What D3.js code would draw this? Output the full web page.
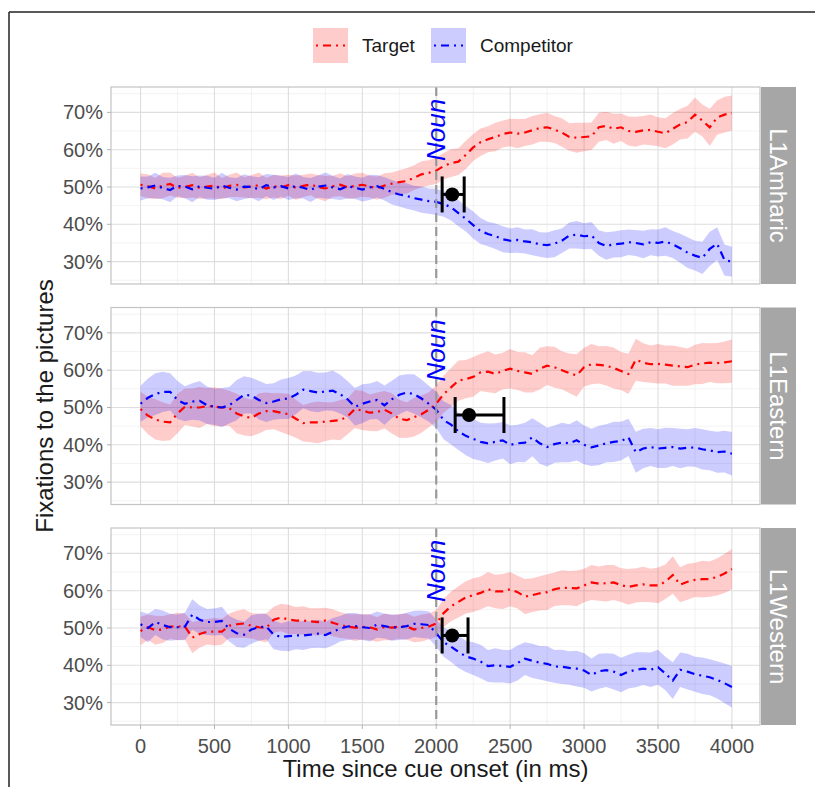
<!DOCTYPE html>
<html>
<head>
<meta charset="utf-8">
<script src="https://cdn.jsdelivr.net/npm/d3@7"></script>
<style>
  body { margin: 0; background: #fff; }
  svg { display: block; font-family: 'Liberation Sans', Arial, sans-serif; }
</style>
</head>
<body>
<svg width="815" height="787"></svg>
<script>
const groups = ['L1Amharic', 'L1Eastern', 'L1Western'];
const seriesNames = ['Target', 'Competitor'];
const seriesColors = ['#ff0000', '#0000ff'];
const times = d3.range(0, 4001, 50);
const xTicks = [0, 500, 1000, 1500, 2000, 2500, 3000, 3500, 4000];
const xMinor = [250, 750, 1250, 1750, 2250, 2750, 3250, 3750];
const yTicks = [30, 40, 50, 60, 70];
const yMinor = [25, 35, 45, 55, 65, 75];

// fixation proportions (%), one value per 50 ms bin
const amharicTarget = [
  50.6,50.2,49.6,50.4,50.8,49.8,50.0,50.5,49.7,50.1,
  50.4,49.6,50.3,50.6,49.9,50.1,50.5,49.6,50.2,49.9,
  50.5,49.8,50.3,50.7,50.0,49.6,50.2,50.6,49.9,50.3,
  50.6,50.1,49.7,50.4,50.9,51.3,51.6,52.5,53.4,53.8,
  54.4,55.6,56.4,56.8,58.6,60.6,62.0,62.8,63.4,64.2,
  64.6,64.3,64.6,65.2,65.8,66.0,65.4,64.6,63.4,63.2,
  63.4,63.6,66.0,66.4,65.6,66.0,65.0,64.8,65.2,65.3,
  64.8,64.4,65.6,66.8,67.4,69.4,67.8,66.0,68.6,69.4,
  69.8];
const amharicCompetitor = [
  49.6,49.9,50.4,49.7,49.2,50.3,50.1,49.4,50.2,49.8,
  49.5,50.4,49.8,49.3,50.1,50.0,49.4,50.5,49.9,50.2,
  49.6,50.3,49.8,49.2,50.1,50.4,49.9,49.4,50.2,49.8,
  49.3,49.9,50.2,49.5,48.6,48.0,47.6,47.0,46.6,46.2,
  46.0,45.4,44.6,43.0,41.5,39.8,38.2,37.4,36.8,36.0,
  35.6,35.8,35.4,35.2,34.6,34.4,34.8,35.6,37.0,37.2,
  36.8,37.0,35.0,34.2,34.6,34.8,35.2,35.0,34.6,35.2,
  35.0,35.4,34.6,33.6,32.4,31.6,31.0,33.4,34.8,30.4,
  30.0];
const easternTarget = [
  49.6,47.8,46.8,46.2,46.0,48.4,50.2,50.0,50.0,50.4,
  50.2,50.0,49.8,48.4,47.6,47.2,48.4,49.0,49.0,48.6,
  48.2,47.0,45.8,46.0,46.0,46.2,46.4,46.6,47.6,49.6,
  49.2,48.6,48.8,49.4,48.4,47.0,46.6,47.4,48.2,49.4,
  51.0,53.6,55.4,57.2,57.6,58.2,59.4,59.6,59.0,59.8,
  60.4,59.8,59.4,59.0,60.4,61.2,60.8,60.0,59.2,58.6,
  60.8,61.6,61.4,61.2,60.6,59.8,59.0,62.8,62.0,61.6,
  61.7,61.5,61.2,61.0,60.8,61.5,61.8,62.0,61.9,62.1,
  62.4];
const easternCompetitor = [
  51.0,52.6,53.6,54.2,54.2,52.0,51.0,51.6,51.8,50.6,
  50.2,50.0,50.6,52.0,53.4,53.2,52.0,51.2,51.6,52.2,
  52.4,53.4,54.8,54.4,54.0,54.3,54.5,53.6,52.2,50.2,
  51.0,51.6,52.0,50.6,52.2,53.4,54.0,53.6,52.4,51.0,
  49.4,46.6,45.4,43.6,42.4,41.6,40.8,40.4,40.8,41.2,
  40.0,40.4,40.6,42.0,40.4,39.4,40.2,40.6,40.4,41.2,
  40.0,39.3,39.8,40.4,40.8,41.0,42.0,38.0,39.0,39.4,
  39.0,39.2,39.4,39.0,39.2,39.3,38.8,38.5,38.0,38.2,
  37.6];
const westernTarget = [
  49.2,50.2,49.4,49.6,50.4,50.4,50.4,47.4,48.4,49.0,
  49.0,49.0,50.6,51.0,51.2,50.6,50.2,50.0,52.2,52.8,
  52.3,52.0,52.0,51.8,51.6,52.0,51.4,50.8,50.4,50.1,
  50.3,50.2,49.6,50.3,50.1,50.4,50.4,49.6,50.0,50.4,
  51.2,54.0,55.8,57.0,58.2,58.8,59.4,60.4,59.8,59.8,
  60.4,59.6,58.4,58.8,59.3,59.6,60.4,60.8,60.7,60.6,
  61.4,62.2,61.9,62.0,62.2,61.5,61.0,61.4,61.7,61.4,
  61.4,62.4,64.2,61.6,62.4,62.9,63.1,63.1,63.7,64.6,
  65.8];
const westernCompetitor = [
  51.0,50.0,51.6,50.8,50.2,50.2,50.4,53.6,52.2,51.6,
  51.6,51.9,49.8,48.6,48.2,49.6,50.2,50.4,48.2,47.6,
  47.8,48.0,48.0,48.2,48.5,48.1,49.0,49.8,50.4,50.5,
  50.2,50.0,50.9,50.5,50.1,50.2,50.5,51.1,51.0,50.8,
  48.6,46.2,45.0,43.6,42.4,41.8,41.0,39.8,40.0,39.8,
  39.6,40.6,41.8,41.2,40.7,40.4,39.7,39.6,39.3,39.1,
  38.6,37.4,38.4,38.7,38.3,37.4,38.3,38.8,39.1,38.8,
  39.5,37.8,35.9,38.8,38.3,37.6,37.2,36.8,36.1,35.2,
  34.2];

// ribbon half-widths (%)
const amharicTargetSE = [
  3.0,3.2,2.8,3.4,3.1,2.7,3.0,3.3,2.9,3.2,
  3.5,2.8,3.0,3.3,2.7,3.1,3.4,2.9,3.0,3.2,
  2.8,3.3,3.0,2.9,3.2,3.4,2.8,3.1,3.0,3.3,
  3.2,2.9,3.1,3.3,3.0,3.2,3.4,3.3,3.5,3.4,
  3.6,3.5,3.7,3.6,3.8,3.6,3.7,3.5,3.8,3.6,
  3.7,3.9,3.6,3.8,3.7,3.9,3.6,3.8,3.7,4.0,
  3.8,3.7,3.9,3.8,4.0,3.7,3.9,4.0,3.8,4.1,
  3.9,4.0,4.2,4.1,4.4,4.6,4.3,5.0,4.6,4.8,
  4.7];
const amharicCompetitorSE = [
  3.2,2.9,3.4,3.0,3.3,2.8,3.1,3.5,2.9,3.2,
  3.0,3.4,2.8,3.1,3.3,2.9,3.2,3.0,3.4,2.8,
  3.1,3.3,2.9,3.2,3.0,3.5,3.1,2.9,3.3,3.0,
  3.2,3.4,3.0,3.1,3.3,3.2,3.4,3.3,3.5,3.4,
  3.5,3.4,3.6,3.5,3.4,3.6,3.5,3.3,3.4,3.5,
  3.3,3.4,3.2,3.5,3.3,3.4,3.6,3.3,3.5,3.7,
  3.5,3.6,3.4,3.7,3.5,3.6,3.4,3.5,3.7,3.5,
  3.6,3.8,3.6,3.9,4.1,4.0,4.3,4.6,4.4,4.2,
  4.0];
const easternTargetSE = [
  4.6,5.0,5.4,5.2,4.8,5.3,4.9,5.1,5.5,4.8,
  5.2,5.0,4.7,5.3,5.1,4.9,5.4,5.0,4.8,5.2,
  5.5,5.1,4.9,5.3,5.6,5.2,5.0,5.4,4.8,5.1,
  5.3,4.9,5.2,5.0,5.4,5.1,4.8,5.2,5.0,4.7,
  4.9,5.0,5.2,5.4,5.1,5.3,5.0,5.5,5.2,4.9,
  5.3,5.1,5.4,5.0,5.6,5.2,5.5,5.1,5.3,5.7,
  5.2,5.4,5.0,5.3,5.5,5.1,5.4,5.6,5.2,5.0,
  5.3,5.1,5.4,5.2,5.0,5.3,5.5,5.2,5.4,5.6,
  5.8];
const easternCompetitorSE = [
  4.8,5.2,5.6,5.4,5.0,5.1,4.7,4.9,5.3,5.0,
  4.8,5.2,4.9,5.4,5.0,4.8,5.2,5.1,4.9,5.3,
  5.5,5.2,5.0,5.4,5.3,5.1,5.4,5.2,4.9,5.0,
  5.2,4.8,5.1,5.3,5.0,5.2,4.9,5.3,5.1,4.8,
  4.9,5.1,5.3,5.0,5.2,5.4,5.1,5.3,5.0,4.9,
  5.2,5.0,5.3,5.1,5.5,5.2,5.0,5.3,5.1,5.4,
  5.2,5.0,5.3,5.1,5.4,5.2,5.0,5.5,5.3,5.1,
  5.2,5.4,5.1,5.3,5.0,5.2,5.4,5.3,5.5,5.6,
  5.8];
const westernTargetSE = [
  3.8,3.4,3.9,3.6,3.3,3.7,3.5,4.2,3.6,3.4,
  3.7,3.5,3.3,3.6,3.8,3.4,3.6,3.9,3.5,3.7,
  3.9,3.6,3.8,3.5,3.7,3.4,3.6,3.5,3.3,3.6,
  3.4,3.5,3.3,3.6,3.4,3.3,3.5,3.4,3.6,3.5,
  3.6,3.8,4.0,4.2,4.3,4.5,4.4,4.6,4.5,4.7,
  4.6,4.4,4.7,4.5,4.6,4.8,4.5,4.7,4.6,4.8,
  4.5,4.7,4.6,4.9,4.7,4.5,4.8,4.6,4.7,4.5,
  4.8,4.6,5.0,4.7,4.8,4.6,4.9,4.7,5.0,5.2,
  5.4];
const westernCompetitorSE = [
  3.4,3.8,3.5,3.9,3.6,3.4,3.7,4.1,3.8,3.5,
  3.6,3.8,3.4,3.7,3.5,3.8,3.6,3.4,3.9,3.7,
  4.0,3.7,3.9,3.6,3.8,3.5,3.7,3.4,3.6,3.5,
  3.4,3.6,3.5,3.3,3.5,3.4,3.6,3.5,3.7,3.6,
  3.7,3.9,4.1,4.3,4.2,4.4,4.5,4.3,4.6,4.4,
  4.5,4.7,4.4,4.6,4.5,4.7,4.4,4.6,4.5,4.8,
  4.6,4.4,4.7,4.5,4.8,4.6,4.5,4.7,4.4,4.6,
  4.7,4.5,4.9,4.6,4.8,4.7,4.9,4.8,5.0,5.3,
  5.6];

// divergence point estimate with CI (ms) per group
const divergenceTime = [2108, 2222, 2108];
const divergenceLow = [2040, 2128, 2040];
const divergenceHigh = [2189, 2458, 2215];
const divergenceLevel = [48, 48, 48];
const nounOnset = 2000;
const nounLabelLevel = 65.3;

const seriesByGroup = [
  [[amharicTarget, amharicTargetSE], [amharicCompetitor, amharicCompetitorSE]],
  [[easternTarget, easternTargetSE], [easternCompetitor, easternCompetitorSE]],
  [[westernTarget, westernTargetSE], [westernCompetitor, westernCompetitorSE]]
];

const svg = d3.select('svg');

const panelLeft = 111;
const panelRight = 760;
const panelTops = [87, 307.5, 528];
const panelH = 197;
const stripW = 35;
const dash = '2,5,8,5';

const x = d3.scaleLinear().domain([-200, 4190]).range([panelLeft, panelRight]);

// outer frame
svg.append('line').attr('x1', 9).attr('x2', 815).attr('y1', 12).attr('y2', 12)
  .attr('stroke', '#222').attr('stroke-width', 1.5);
svg.append('line').attr('x1', 9).attr('x2', 9).attr('y1', 12).attr('y2', 787)
  .attr('stroke', '#222').attr('stroke-width', 1.5);

groups.forEach(function(group, gi) {
  const top = panelTops[gi];
  const y = d3.scaleLinear().domain([24, 76.8]).range([top + panelH, top]);
  const g = svg.append('g');

  g.append('clipPath').attr('id', 'clip' + gi)
    .append('rect').attr('x', panelLeft).attr('y', top)
    .attr('width', panelRight - panelLeft).attr('height', panelH);

  // minor grid
  g.selectAll('.xminor').data(xMinor).enter().append('line')
    .attr('x1', d => x(d)).attr('x2', d => x(d)).attr('y1', top).attr('y2', top + panelH)
    .attr('stroke', '#ebebeb').attr('stroke-width', 0.6);
  g.selectAll('.yminor').data(yMinor).enter().append('line')
    .attr('x1', panelLeft).attr('x2', panelRight).attr('y1', d => y(d)).attr('y2', d => y(d))
    .attr('stroke', '#ebebeb').attr('stroke-width', 0.6);
  // major grid
  g.selectAll('.xmajor').data(xTicks).enter().append('line')
    .attr('x1', d => x(d)).attr('x2', d => x(d)).attr('y1', top).attr('y2', top + panelH)
    .attr('stroke', '#dedede').attr('stroke-width', 1.1);
  g.selectAll('.ymajor').data(yTicks).enter().append('line')
    .attr('x1', panelLeft).attr('x2', panelRight).attr('y1', d => y(d)).attr('y2', d => y(d))
    .attr('stroke', '#dedede').attr('stroke-width', 1.1);

  const plot = g.append('g').attr('clip-path', 'url(#clip' + gi + ')');

  const area = d3.area()
    .x((d, i) => x(times[i]))
    .y0(d => y(d[0] - d[1]))
    .y1(d => y(d[0] + d[1]));
  const line = d3.line()
    .x((d, i) => x(times[i]))
    .y(d => y(d));

  seriesByGroup[gi].forEach(function(s, si) {
    const pairs = d3.zip(s[0], s[1]);
    plot.append('path').datum(pairs)
      .attr('d', area)
      .attr('fill', seriesColors[si]).attr('fill-opacity', 0.2);
  });
  seriesByGroup[gi].forEach(function(s, si) {
    plot.append('path').datum(s[0])
      .attr('d', line)
      .attr('fill', 'none')
      .attr('stroke', seriesColors[si]).attr('stroke-width', 2.2)
      .attr('stroke-dasharray', dash);
  });

  // noun onset
  plot.append('line')
    .attr('x1', x(nounOnset)).attr('x2', x(nounOnset))
    .attr('y1', top).attr('y2', top + panelH)
    .attr('stroke', '#999').attr('stroke-width', 2.2)
    .attr('stroke-dasharray', '9,5');
  plot.append('text')
    .attr('transform', `translate(${x(nounOnset)}, ${y(nounLabelLevel)}) rotate(-90)`)
    .attr('text-anchor', 'middle').attr('dominant-baseline', 'central')
    .attr('fill', '#0000ff').attr('font-style', 'italic').attr('font-size', 26)
    .text('Noun');

  // divergence error bar
  const ey = y(divergenceLevel[gi]);
  const eb = plot.append('g').attr('stroke', '#000').attr('stroke-width', 3);
  eb.append('line').attr('x1', x(divergenceLow[gi])).attr('x2', x(divergenceHigh[gi]))
    .attr('y1', ey).attr('y2', ey);
  [divergenceLow[gi], divergenceHigh[gi]].forEach(function(v) {
    eb.append('line').attr('x1', x(v)).attr('x2', x(v)).attr('y1', ey - 18).attr('y2', ey + 18);
  });
  plot.append('circle').attr('cx', x(divergenceTime[gi])).attr('cy', ey).attr('r', 7).attr('fill', '#000');

  // panel border
  g.append('rect').attr('x', panelLeft).attr('y', top)
    .attr('width', panelRight - panelLeft).attr('height', panelH)
    .attr('fill', 'none').attr('stroke', '#c4c4c4').attr('stroke-width', 1.2);

  // strip
  g.append('rect').attr('x', panelRight + 1).attr('y', top)
    .attr('width', stripW).attr('height', panelH).attr('fill', '#a6a6a6');
  g.append('text')
    .attr('transform', `translate(${panelRight + 1 + stripW / 2}, ${top + panelH / 2}) rotate(90)`)
    .attr('text-anchor', 'middle').attr('dominant-baseline', 'central')
    .attr('fill', '#fff').attr('font-size', 24)
    .text(group);

  // y axis
  g.selectAll('.ytick').data(yTicks).enter().append('line')
    .attr('x1', panelLeft - 4).attr('x2', panelLeft).attr('y1', d => y(d)).attr('y2', d => y(d))
    .attr('stroke', '#b3b3b3').attr('stroke-width', 1);
  g.selectAll('.ylab').data(yTicks).enter().append('text')
    .attr('x', panelLeft - 8).attr('y', d => y(d))
    .attr('text-anchor', 'end').attr('dominant-baseline', 'central')
    .attr('fill', '#4d4d4d').attr('font-size', 20)
    .text(d => d + '%');

  if (gi === groups.length - 1) {
    g.selectAll('.xtick').data(xTicks).enter().append('line')
      .attr('x1', d => x(d)).attr('x2', d => x(d))
      .attr('y1', top + panelH).attr('y2', top + panelH + 4)
      .attr('stroke', '#b3b3b3').attr('stroke-width', 1);
    g.selectAll('.xlab').data(xTicks).enter().append('text')
      .attr('x', d => x(d)).attr('y', top + panelH + 28)
      .attr('text-anchor', 'middle')
      .attr('fill', '#4d4d4d').attr('font-size', 20)
      .text(d => d);
  }
});

// axis titles
svg.append('text')
  .attr('x', (panelLeft + panelRight) / 2).attr('y', 777)
  .attr('text-anchor', 'middle').attr('fill', '#1a1a1a').attr('font-size', 24)
  .text('Time since cue onset (in ms)');
svg.append('text')
  .attr('transform', `translate(44, ${(panelTops[0] + panelTops[2] + panelH) / 2}) rotate(-90)`)
  .attr('text-anchor', 'middle').attr('dominant-baseline', 'central')
  .attr('fill', '#1a1a1a').attr('font-size', 24)
  .text('Fixations to the pictures');

// legend
const legendKeys = [313, 431];
const legendText = [362, 480];
seriesNames.forEach(function(name, i) {
  const lg = svg.append('g');
  lg.append('rect').attr('x', legendKeys[i]).attr('y', 28).attr('width', 35).attr('height', 35)
    .attr('fill', seriesColors[i]).attr('fill-opacity', 0.2);
  lg.append('line').attr('x1', legendKeys[i] + 3).attr('x2', legendKeys[i] + 32)
    .attr('y1', 45.5).attr('y2', 45.5)
    .attr('stroke', seriesColors[i]).attr('stroke-width', 2.2).attr('stroke-dasharray', dash);
  lg.append('text').attr('x', legendText[i]).attr('y', 45.5)
    .attr('dominant-baseline', 'central').attr('fill', '#1a1a1a').attr('font-size', 19)
    .text(name);
});
</script>
</body>
</html>
